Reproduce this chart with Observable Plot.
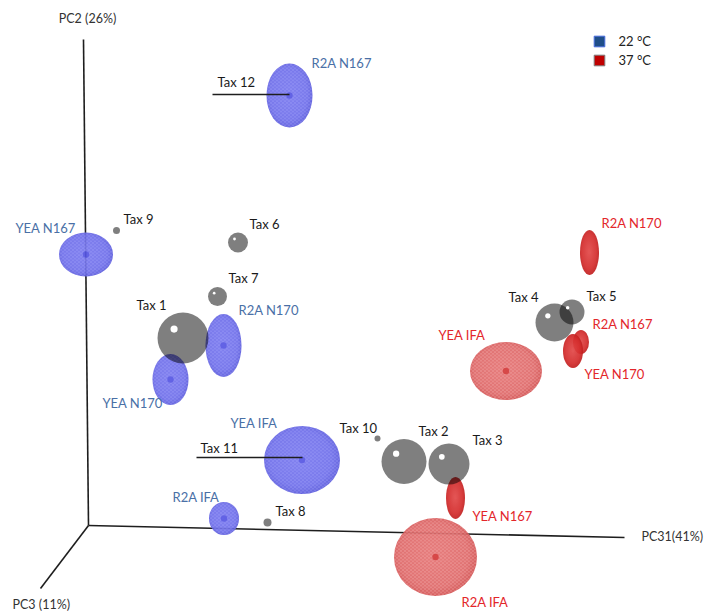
<!DOCTYPE html>
<html>
<head>
<meta charset="utf-8">
<script src="https://cdn.jsdelivr.net/npm/d3@7"></script>
<script src="https://cdn.jsdelivr.net/npm/@observablehq/plot@0.6"></script>
<style>
  html, body { margin: 0; padding: 0; background: #ffffff; }
  #chart svg { display: block; }
</style>
</head>
<body>
<div id="chart"></div>
<script>
// ---- Projected PCA coordinates (origin at the axes' corner, PC2 up) ----
// Axes
const axisNames = ["PC2 (26%)", "PC31(41%)", "PC3 (11%)"];
const axisEndU = [-5, 536, -48];
const axisEndV = [486, -12, -63];
const axisLabelU = [-1, 553, -76];
const axisLabelV = [507, -11, -79];

// 22 °C samples (ellipsoids)
const samples22 = ["R2A N167", "YEA N167", "R2A N170", "YEA N170", "YEA IFA", "R2A IFA"];
const u22 = [201.5, -2, 135.5, 82.5, 214, 136];
const v22 = [429.5, 270.5, 179.5, 145.5, 65, 6.5];
const rx22 = [23, 27, 18, 18, 38, 15];
const ry22 = [32, 22, 31.5, 25.5, 34, 16.5];
const labU22 = [223, -73, 150, 14, 142, 84];
const labV22 = [462, 297, 215, 122, 102, 28];

// 37 °C samples (ellipsoids)
const samples37 = ["R2A N170", "R2A N167", "YEA N170", "YEA IFA", "YEA N167", "R2A IFA"];
const u37 = [501.5, 493, 485, 418, 367.5, 347.5];
const v37 = [272.5, 183, 174, 154, 27, -32];
const rx37 = [9.5, 8, 10, 36, 9.5, 41.5];
const ry37 = [22.5, 12, 17, 29, 21, 39];
const labU37 = [513, 504, 496, 350, 384, 373];
const labV37 = [302, 201, 151, 190, 9, -77];

// Taxa (spheres)
const taxa = ["Tax 1", "Tax 2", "Tax 3", "Tax 4", "Tax 5", "Tax 6", "Tax 7", "Tax 8", "Tax 9", "Tax 10"];
const taxU = [94.5, 315.5, 360.5, 466, 483.5, 149.5, 129, 179, 28, 289];
const taxV = [187.5, 64, 61.5, 203, 213.5, 283, 229, 3, 295, 87];
const taxR = [25.5, 22.5, 20.5, 19, 12.5, 10, 9.5, 4, 3.5, 3];
const taxLabU = [48, 330, 384, 420, 498, 161, 140, 187, 35, 251];
const taxLabV = [220, 94, 85, 228, 229, 301, 247, 14, 306, 97];

// Taxa drawn as vectors
const vecTaxa = ["Tax 11", "Tax 12"];
const vecU1 = [108, 124];
const vecV1 = [68, 431];
const vecU2 = [214, 201];
const vecV2 = [68, 431];
const vecLabU = [112, 129];
const vecLabV = [77, 443];

// Legend
const legendLabels = ["22 °C", "37 °C"];
const legendU = [511, 511];
const legendV = [484, 465];

// ---- tables ----
const axes = axisNames.map((name, i) => ({name, u: axisEndU[i], v: axisEndV[i], lu: axisLabelU[i], lv: axisLabelV[i]}));
const ell22 = samples22.map((name, i) => ({name, u: u22[i], v: v22[i], rx: rx22[i], ry: ry22[i], lu: labU22[i], lv: labV22[i], temp: "22"}));
const ell37 = samples37.map((name, i) => ({name, u: u37[i], v: v37[i], rx: rx37[i], ry: ry37[i], lu: labU37[i], lv: labV37[i], temp: "37"}));
const spheres = taxa.map((name, i) => ({name, u: taxU[i], v: taxV[i], r: taxR[i], lu: taxLabU[i], lv: taxLabV[i]}));
const vectors = vecTaxa.map((name, i) => ({name, u1: vecU1[i], v1: vecV1[i], u2: vecU2[i], v2: vecV2[i], lu: vecLabU[i], lv: vecLabV[i]}));
const legend = legendLabels.map((name, i) => ({name, u: legendU[i], v: legendV[i]}));

// ellipsoid mark drawn through Plot's scales
function ellipsoids(data) {
  return (index, scales) => {
    const g = d3.create("svg:g");
    for (const d of data) {
      const cx = scales.x(d.u), cy = scales.y(d.v);
      const rx = Math.abs(scales.x(d.u + d.rx) - cx);
      const ry = Math.abs(scales.y(d.v + d.ry) - cy);
      const big = d.rx * d.ry > 500;
      let grad, mesh, core;
      if (d.temp === "22") { grad = "url(#gBlue)"; mesh = "url(#meshBlue)"; core = "#4f4fe0"; }
      else if (big) { grad = "url(#gRedLight)"; mesh = "url(#meshRed)"; core = "#d02e2e"; }
      else { grad = "url(#gRed)"; mesh = null; core = "#e04646"; }
      const e = g.append("g").attr("opacity", 0.92);
      e.append("ellipse").attr("cx", cx).attr("cy", cy).attr("rx", rx).attr("ry", ry).attr("fill", grad);
      if (mesh) e.append("ellipse").attr("cx", cx).attr("cy", cy).attr("rx", rx).attr("ry", ry).attr("fill", mesh);
      e.append("circle").attr("cx", cx).attr("cy", cy).attr("r", d.temp === "22" || big ? 3.2 : 1.5).attr("fill", core).attr("opacity", 0.85);
    }
    return g.node();
  };
}

const blueText = "#4a70a6";
const redText = "#e3262b";

const chart = Plot.plot({
  width: 704,
  height: 615,
  margin: 0,
  x: {domain: [-88, 616], axis: null},
  y: {domain: [-90, 525], axis: null},
  r: {type: "identity"},
  style: {fontFamily: "Lato, 'Open Sans', sans-serif", fontSize: "13px", background: "#ffffff"},
  marks: [
    // axes
    Plot.link(axes, {x1: 0, y1: 0, x2: "u", y2: "v", stroke: "#1e1e1e", strokeWidth: 1.6}),
    Plot.text(axes.slice(0, 1), {x: "lu", y: "lv", text: "name", fill: "#333333", textAnchor: "middle", fontSize: 12.5}),
    Plot.text(axes.slice(1), {x: "lu", y: "lv", text: "name", fill: "#333333", textAnchor: "start", fontSize: 12.5}),
    // ellipsoids
    ellipsoids(ell22),
    ellipsoids(ell37),
    // vector taxa
    Plot.link(vectors, {x1: "u1", y1: "v1", x2: "u2", y2: "v2", stroke: "#1e1e1e", strokeWidth: 1.5}),
    Plot.text(vectors, {x: "lu", y: "lv", text: "name", fill: "#1a1a1a", textAnchor: "start"}),
    // spheres
    Plot.dot(spheres, {x: "u", y: "v", r: "r", fill: "#000000", fillOpacity: 0.5}),
    Plot.dot(spheres.filter(d => d.r > 6), {x: d => d.u - 0.35 * d.r, y: d => d.v + 0.35 * d.r, r: d => 0.14 * d.r, fill: "#ffffff"}),
    Plot.text(spheres, {x: "lu", y: "lv", text: "name", fill: "#1a1a1a", textAnchor: "start"}),
    // sample labels
    Plot.text(ell22, {x: "lu", y: "lv", text: "name", fill: blueText, textAnchor: "start"}),
    Plot.text(ell37, {x: "lu", y: "lv", text: "name", fill: redText, textAnchor: "start"}),
    // legend
    Plot.dot(legend, {x: "u", y: "v", r: 6, symbol: "square", fill: (d, i) => i === 0 ? "#1f4e89" : "#c00000", stroke: (d, i) => i === 0 ? "#4a6ee0" : "#7f7f7f", strokeWidth: 1}),
    Plot.text(legend, {x: d => d.u + 19, y: "v", text: "name", fill: "#222222", textAnchor: "start", fontSize: 13})
  ]
});

// gradients and mesh textures
const defs = d3.select(chart).insert("defs", ":first-child");
function radial(id, stops) {
  const rg = defs.append("radialGradient").attr("id", id).attr("cx", "48%").attr("cy", "48%").attr("r", "55%");
  stops.forEach(([o, c]) => rg.append("stop").attr("offset", o).attr("stop-color", c));
}
radial("gBlue", [["0%", "#7878ee"], ["75%", "#6e6eea"], ["100%", "#5656d8"]]);
radial("gRedLight", [["0%", "#e47272"], ["75%", "#de6868"], ["100%", "#cf4c4c"]]);
radial("gRed", [["0%", "#e24848"], ["70%", "#d42c2c"], ["100%", "#bc1c1c"]]);
function mesh(id, color) {
  const p = defs.append("pattern").attr("id", id).attr("width", 4).attr("height", 3.46).attr("patternUnits", "userSpaceOnUse");
  p.append("circle").attr("cx", 1).attr("cy", 0.87).attr("r", 0.9).attr("fill", color);
  p.append("circle").attr("cx", 3).attr("cy", 2.6).attr("r", 0.9).attr("fill", color);
}
mesh("meshBlue", "rgba(170,170,255,0.35)");
mesh("meshRed", "rgba(255,190,190,0.35)");

document.getElementById("chart").appendChild(chart);
</script>
</body>
</html>
